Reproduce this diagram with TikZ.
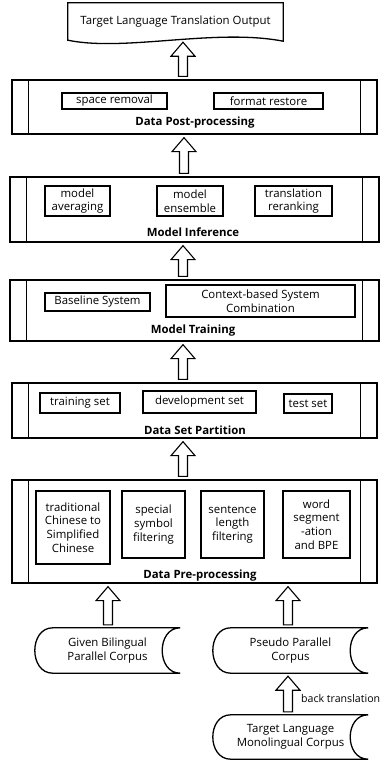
\documentclass[tikz,border=0pt]{standalone}
\usepackage{fontspec}
\setmainfont{Open Sans}
\usetikzlibrary{calc}
\tikzset{
  outerbox/.style={draw, line width=1.3pt, minimum width=#1, inner sep=0pt},
  innerbox/.style={draw, line width=1.3pt, align=center, inner sep=0pt, font=\fontsize{11.4}{13.6}\selectfont},
  titletext/.style={font=\fontsize{11.4}{13}\selectfont\bfseries, inner sep=0pt},
  plaintext/.style={font=\fontsize{11.4}{13.6}\selectfont, align=center, inner sep=0pt},
  blockarrow/.style={draw, line width=1.1pt, fill=white, line join=miter},
  shapeline/.style={line width=1.3pt},
}
\newcommand\hollow[3]{%
  \draw[blockarrow] let \p1=(#2), \p2=(#3) in
    ({#1pt-4.5pt},{\y1+3pt}) -- ({#1pt-4.5pt},{\y2-17pt}) -- ({#1pt-12pt},{\y2-17pt})
    -- ({#1pt},{\y2-3pt}) -- ({#1pt+12pt},{\y2-17pt}) -- ({#1pt+4.5pt},{\y2-17pt})
    -- ({#1pt+4.5pt},{\y1+3pt}) -- cycle;}
\newcommand\sidelines[1]{%
  \draw[shapeline] ([xshift=17pt]#1.north west) -- ([xshift=17pt]#1.south west);
  \draw[shapeline] ([xshift=-17pt]#1.north east) -- ([xshift=-17pt]#1.south east);}
\newcommand\stored[1]{%
  \draw[shapeline] ([xshift=18pt]#1.north west) -- (#1.north east)
    .. controls ([xshift=-24pt]#1.north east) and ([xshift=-24pt]#1.south east) .. (#1.south east)
    -- ([xshift=18pt]#1.south west)
    .. controls ([xshift=-6pt]#1.south west) and ([xshift=-6pt]#1.north west) .. ([xshift=18pt]#1.north west) -- cycle;}
\begin{document}
\begin{tikzpicture}[x=1pt, y=-1pt]
\useasboundingbox (0,0) rectangle (388,761);

% output document
\node[plaintext, minimum width=215pt, minimum height=35pt] (doc) at (175.5,21.5) {Target Language Translation Output};
\draw[shapeline] ([yshift=1pt]doc.north west) -- ([yshift=1pt]doc.north east) -- ([yshift=-2pt]doc.south east)
  .. controls (215,28) and (125,52) .. ([yshift=-1pt]doc.south west) -- cycle;

% post-processing
\node[outerbox=365pt, minimum height=54pt] (post) at (194.5,107) {};
\sidelines{post}
\node[innerbox, minimum width=105pt, minimum height=16pt] (sr) at (114.5,101) {space removal};
\node[innerbox, minimum width=109pt, minimum height=16pt] (fr) at (268.5,101) {format restore};
\node[titletext] (postT) at (195,123) {Data Post-processing};

% inference
\node[outerbox=369pt, minimum height=65pt] (infer) at (194.5,209.5) {};
\sidelines{infer}
\node[innerbox, minimum width=65pt, minimum height=30pt] (ma) at (77.5,201) {model\\averaging};
\node[innerbox, minimum width=66pt, minimum height=30pt] (me) at (190,201) {model\\ensemble};
\node[innerbox, minimum width=77pt, minimum height=30pt] (tr) at (293.5,201) {translation\\reranking};
\node[titletext] (inferT) at (193,232) {Model Inference};

% training
\node[outerbox=369pt, minimum height=61pt] (train) at (194.5,310.5) {};
\sidelines{train}
\node[innerbox, minimum width=105pt, minimum height=18pt] (bs) at (97.5,302) {Baseline System};
\node[innerbox, minimum width=189pt, minimum height=32pt] (cb) at (260.5,301) {Context-based System\\Combination};
\node[titletext] (trainT) at (193,331) {Model Training};

% partition
\node[outerbox=365pt, minimum height=55pt] (part) at (194.5,410.5) {};
\sidelines{part}
\node[innerbox, minimum width=80pt, minimum height=20pt] (ts) at (80,403) {training set};
\node[innerbox, minimum width=113pt, minimum height=22pt] (ds) at (199.5,402) {development set};
\node[innerbox, minimum width=48pt, minimum height=19pt] (te) at (308,403.5) {test set};
\node[titletext] (partT) at (195,430) {Data Set Partition};

% pre-processing
\node[outerbox=365pt, minimum height=103pt] (pre) at (194.5,531.5) {};
\sidelines{pre}
\node[innerbox, minimum width=74pt, minimum height=73pt] (p1) at (73,527.5) {traditional\\Chinese to\\Simplified\\Chinese};
\node[innerbox, minimum width=63pt, minimum height=67pt] (p2) at (153.5,524.5) {special\\symbol\\filtering};
\node[innerbox, minimum width=63pt, minimum height=67pt] (p3) at (232.5,524.5) {sentence\\length\\filtering};
\node[innerbox, minimum width=67pt, minimum height=67pt] (p4) at (316.5,524.5) {word\\segment\\-ation\\and BPE};
\node[titletext] (preT) at (200,576) {Data Pre-processing};

% corpora
\node[plaintext, minimum width=145pt, minimum height=45pt] (gc) at (107.5,650.5) {Given Bilingual\\Parallel Corpus};
\stored{gc}
\node[plaintext, minimum width=155pt, minimum height=45pt] (pc) at (290.5,650.5) {Pseudo Parallel\\Corpus};
\stored{pc}
\node[plaintext, minimum width=155pt, minimum height=44pt] (mc) at (290.5,737) {Target Language\\Monolingual Corpus};
\stored{mc}

% arrows
\hollow{183}{post.north}{doc.south}
\hollow{184}{infer.north}{post.south}
\hollow{183}{train.north}{infer.south}
\hollow{183}{part.north}{train.south}
\hollow{183}{pre.north}{part.south}
\hollow{108}{gc.north}{pre.south}
\hollow{288}{pc.north}{pre.south}
\hollow{288}{mc.north}{pc.south}
\node[plaintext, anchor=west, font=\fontsize{10.6}{12}\selectfont] (bt) at (301,699) {back translation};
\end{tikzpicture}
\end{document}
